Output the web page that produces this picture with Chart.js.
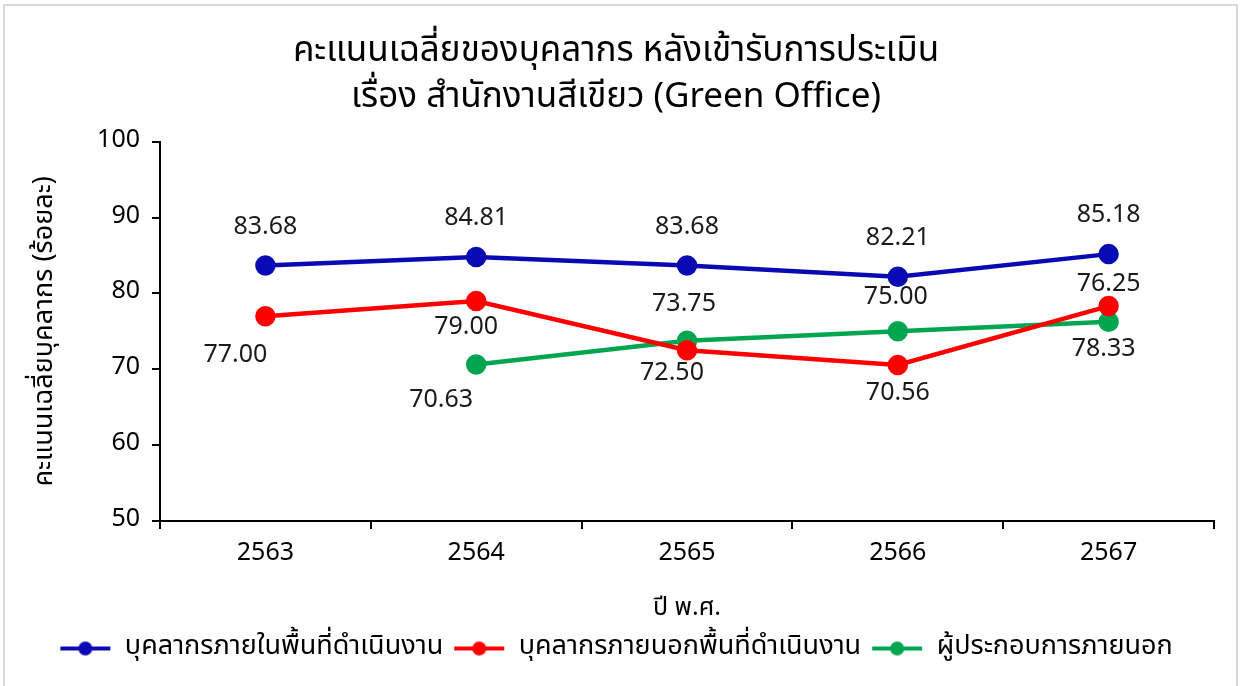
<!DOCTYPE html>
<html><head><meta charset="utf-8">
<script src="https://cdn.jsdelivr.net/npm/chart.js@4/dist/chart.umd.min.js"></script>
<style>
html,body{margin:0;padding:0;background:#fff;}
#wrap{position:absolute;left:3px;top:4px;width:1235px;height:690px;border:2px solid #d9d9d9;box-sizing:border-box;}
canvas{position:absolute;left:0;top:0;}
</style></head>
<body>
<div id="wrap"></div>
<canvas id="c" width="1242" height="686"></canvas>
<script>
const years = ['2563','2564','2565','2566','2567'];
const insideStaff = [83.68, 84.81, 83.68, 82.21, 85.18];
const outsideStaff = [77.00, 79.00, 72.50, 70.56, 78.33];
const operators = [null, 70.63, 73.75, 75.00, 76.25];
const seriesNames = ['บุคลากรภายในพื้นที่ดำเนินงาน','บุคลากรภายนอกพื้นที่ดำเนินงาน','ผู้ประกอบการภายนอก'];
const titleLines = ['คะแนนเฉลี่ยของบุคลากร หลังเข้ารับการประเมิน','เรื่อง สำนักงานสีเขียว (Green Office)'];
const yTicks = [50,60,70,80,90,100];

const FONT = "Tahoma, 'Noto Sans Thai', 'Noto Sans', 'DejaVu Sans', sans-serif";
const NARROW = "'Liberation Sans Narrow', 'Noto Sans Thai', 'Noto Sans', sans-serif";
const BLUE='#0a0ab4', RED='#ff0000', GREEN='#00a550';

function legendIcon(color){
  const c=document.createElement('canvas'); c.width=52; c.height=16;
  const x=c.getContext('2d');
  x.strokeStyle=color; x.lineWidth=4; x.beginPath(); x.moveTo(1,8); x.lineTo(51,8); x.stroke();
  x.fillStyle=color; x.beginPath(); x.arc(26,8,7,0,Math.PI*2); x.fill();
  return c;
}

const labelPlugin = {
  id:'valueLabels',
  afterDatasetsDraw(chart){
    const ctx=chart.ctx;
    ctx.save();
    ctx.font="25px "+FONT; ctx.fillStyle='#1a1a1a'; ctx.textAlign='center'; ctx.textBaseline='middle';
    chart.data.datasets.forEach((ds,i)=>{
      const meta=chart.getDatasetMeta(i);
      meta.data.forEach((pt,j)=>{
        const v=ds.data[j]; if(v==null) return;
        const off=ds.labelOffsets[j];
        ctx.fillText(v.toFixed(2), pt.x+off[0], pt.y+off[1]);
      });
    });
    ctx.restore();
  }
};

new Chart(document.getElementById('c'),{
  type:'line',
  data:{labels:years,datasets:[
    {label:seriesNames[0],data:insideStaff,borderColor:BLUE,backgroundColor:BLUE,borderWidth:4.5,pointRadius:8,pointHoverRadius:8,
      labelOffsets:[[0,-37],[0,-37],[0,-37],[0,-37],[0,-37]]},
    {label:seriesNames[1],data:outsideStaff,borderColor:RED,backgroundColor:RED,borderWidth:4.5,pointRadius:8,pointHoverRadius:8,
      labelOffsets:[[-30,41],[-10,28],[-15,25],[0,30],[-5,45]]},
    {label:seriesNames[2],data:operators,borderColor:GREEN,backgroundColor:GREEN,borderWidth:4.5,pointRadius:8,pointHoverRadius:8,
      labelOffsets:[[0,0],[-35,37],[-3,-35],[-2,-32],[0,-36]]}
  ]},
  options:{
    responsive:false,animation:false,
    elements:{point:{pointStyle:'circle'},line:{tension:0}},
    layout:{padding:{left:18,right:28,top:0,bottom:14}},
    plugins:{
      tooltip:{enabled:false},
      title:{display:true,text:titleLines,color:'#000',font:{family:NARROW,size:35,weight:'normal',lineHeight:1.31},padding:{top:31,bottom:19}},
      legend:{position:'bottom',labels:{usePointStyle:true,pointStyleWidth:52,color:'#000',font:{family:NARROW,size:27},padding:10,
        generateLabels(chart){
          return chart.data.datasets.map((ds,i)=>({text:ds.label,pointStyle:legendIcon(ds.borderColor),fillStyle:ds.borderColor,strokeStyle:ds.borderColor,lineWidth:0,datasetIndex:i,hidden:false,fontColor:'#000'}));
        }}}
    },
    scales:{
      x:{offset:true,
        grid:{offset:true,drawOnChartArea:false,drawTicks:true,tickLength:8,color:'#000',lineWidth:2},
        border:{display:true,color:'#000',width:2},
        ticks:{color:'#000',font:{family:FONT,size:25},padding:11},
        title:{display:true,text:'ปี พ.ศ.',color:'#000',font:{family:FONT,size:25},padding:{top:14,bottom:0}}},
      y:{min:50,max:100,afterBuildTicks(s){s.ticks=yTicks.map(v=>({value:v}));},
        afterFit(s){s.width=142;},
        grid:{drawOnChartArea:false,drawTicks:true,tickLength:8,color:'#000',lineWidth:2},
        border:{display:true,color:'#000',width:2},
        ticks:{color:'#000',font:{family:FONT,size:25},padding:12},
        title:{display:true,text:'คะแนนเฉลี่ยบุคลากร (ร้อยละ)',color:'#000',font:{family:FONT,size:27},padding:{top:12,bottom:0}}}
    }
  },
  plugins:[labelPlugin]
});
</script>
</body></html>
